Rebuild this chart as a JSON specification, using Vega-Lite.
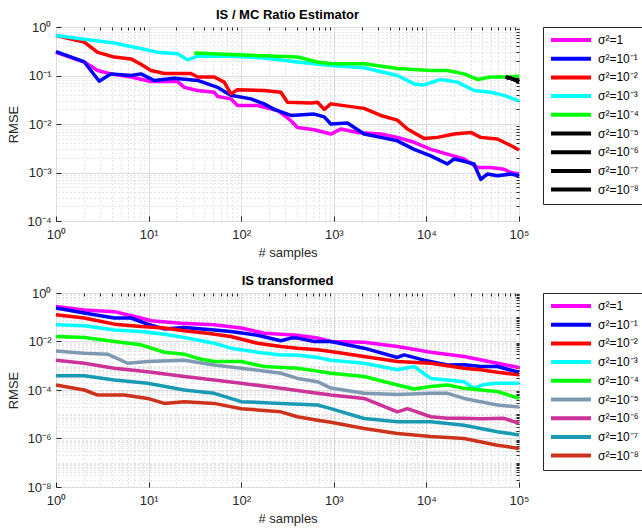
{
  "$schema": "https://vega.github.io/schema/vega-lite/v6.json",
  "background": "white",
  "padding": {"left": 7, "top": 8, "right": 0, "bottom": 0},
  "config": {
    "font": "Liberation Sans",
    "view": {"stroke": "#262626", "strokeWidth": 1},
    "title": {"fontSize": 13, "fontWeight": "bold", "color": "#000000", "offset": -1},
    "axis": {"labelFont": "Liberation Sans", "labelFontSize": 13, "labelColor": "#262626", "labelFlush": false, "titleFont": "Liberation Sans", "titleFontSize": 13, "titleFontWeight": "normal", "titleColor": "#262626", "tickColor": "#262626", "domain": false},
    "legend": {"orient": "right", "offset": 22, "strokeColor": "#262626", "fillColor": "white", "padding": 6, "cornerRadius": 0, "symbolType": "M-1,0H7", "symbolSize": 100, "symbolStrokeWidth": 4, "labelOffset": 35, "labelFont": "Liberation Sans", "labelFontSize": 12, "labelColor": "#000000", "rowPadding": 2.7, "title": null}
  },
  "datasets": {
    "top": [
      {"s":"σ²=1","x":1,"y":0.30},{"s":"σ²=1","x":2.02,"y":0.19},{"s":"σ²=1","x":2.82,"y":0.127},{"s":"σ²=1","x":3.92,"y":0.108},{"s":"σ²=1","x":6.45,"y":0.093},{"s":"σ²=1","x":10.6,"y":0.075},{"s":"σ²=1","x":20.6,"y":0.075},{"s":"σ²=1","x":24.3,"y":0.057},{"s":"σ²=1","x":33.8,"y":0.049},{"s":"σ²=1","x":51.1,"y":0.045},{"s":"σ²=1","x":55.6,"y":0.037},{"s":"σ²=1","x":77.3,"y":0.033},{"s":"σ²=1","x":91.2,"y":0.024},{"s":"σ²=1","x":150,"y":0.024},{"s":"σ²=1","x":247,"y":0.019},{"s":"σ²=1","x":344,"y":0.0117},{"s":"σ²=1","x":405,"y":0.0085},{"s":"σ²=1","x":614,"y":0.0076},{"s":"σ²=1","x":929,"y":0.0062},{"s":"σ²=1","x":1191,"y":0.0079},{"s":"σ²=1","x":1800,"y":0.0067},{"s":"σ²=1","x":3212,"y":0.0062},{"s":"σ²=1","x":4860,"y":0.0053},{"s":"σ²=1","x":7360,"y":0.0042},{"s":"σ²=1","x":11150,"y":0.0030},{"s":"σ²=1","x":16870,"y":0.0024},{"s":"σ²=1","x":25500,"y":0.0019},{"s":"σ²=1","x":35500,"y":0.00127},{"s":"σ²=1","x":49400,"y":0.00127},{"s":"σ²=1","x":68900,"y":0.00117},{"s":"σ²=1","x":81300,"y":0.0010},{"s":"σ²=1","x":100000,"y":0.00093},
      {"s":"σ²=10⁻¹","x":1,"y":0.31},{"s":"σ²=10⁻¹","x":2.02,"y":0.19},{"s":"σ²=10⁻¹","x":2.93,"y":0.076},{"s":"σ²=10⁻¹","x":3.92,"y":0.108},{"s":"σ²=10⁻¹","x":6.45,"y":0.10},{"s":"σ²=10⁻¹","x":8.26,"y":0.108},{"s":"σ²=10⁻¹","x":11.5,"y":0.079},{"s":"σ²=10⁻¹","x":18.9,"y":0.088},{"s":"σ²=10⁻¹","x":33.8,"y":0.079},{"s":"σ²=10⁻¹","x":55.6,"y":0.057},{"s":"σ²=10⁻¹","x":65.6,"y":0.047},{"s":"σ²=10⁻¹","x":77.3,"y":0.039},{"s":"σ²=10⁻¹","x":127,"y":0.033},{"s":"σ²=10⁻¹","x":177,"y":0.026},{"s":"σ²=10⁻¹","x":227,"y":0.020},{"s":"σ²=10⁻¹","x":344,"y":0.015},{"s":"σ²=10⁻¹","x":614,"y":0.016},{"s":"σ²=10⁻¹","x":787,"y":0.014},{"s":"σ²=10⁻¹","x":929,"y":0.010},{"s":"σ²=10⁻¹","x":1404,"y":0.0105},{"s":"σ²=10⁻¹","x":2124,"y":0.0062},{"s":"σ²=10⁻¹","x":3212,"y":0.0053},{"s":"σ²=10⁻¹","x":4860,"y":0.0045},{"s":"σ²=10⁻¹","x":7360,"y":0.0030},{"s":"σ²=10⁻¹","x":11150,"y":0.0022},{"s":"σ²=10⁻¹","x":16870,"y":0.0015},{"s":"σ²=10⁻¹","x":19900,"y":0.0019},{"s":"σ²=10⁻¹","x":25500,"y":0.0017},{"s":"σ²=10⁻¹","x":32700,"y":0.0015},{"s":"σ²=10⁻¹","x":38600,"y":0.00072},{"s":"σ²=10⁻¹","x":45500,"y":0.00093},{"s":"σ²=10⁻¹","x":58300,"y":0.00086},{"s":"σ²=10⁻¹","x":81300,"y":0.00093},{"s":"σ²=10⁻¹","x":100000,"y":0.00086},
      {"s":"σ²=10⁻²","x":1,"y":0.67},{"s":"σ²=10⁻²","x":2.02,"y":0.49},{"s":"σ²=10⁻²","x":2.82,"y":0.30},{"s":"σ²=10⁻²","x":4.26,"y":0.24},{"s":"σ²=10⁻²","x":6.45,"y":0.22},{"s":"σ²=10⁻²","x":8.26,"y":0.17},{"s":"σ²=10⁻²","x":10.6,"y":0.127},{"s":"σ²=10⁻²","x":14.8,"y":0.11},{"s":"σ²=10⁻²","x":28.6,"y":0.11},{"s":"σ²=10⁻²","x":33.8,"y":0.093},{"s":"σ²=10⁻²","x":51.1,"y":0.093},{"s":"σ²=10⁻²","x":65.6,"y":0.073},{"s":"σ²=10⁻²","x":77.3,"y":0.042},{"s":"σ²=10⁻²","x":91.2,"y":0.051},{"s":"σ²=10⁻²","x":177,"y":0.049},{"s":"σ²=10⁻²","x":268,"y":0.045},{"s":"σ²=10⁻²","x":316,"y":0.028},{"s":"σ²=10⁻²","x":565,"y":0.027},{"s":"σ²=10⁻²","x":667,"y":0.028},{"s":"σ²=10⁻²","x":787,"y":0.020},{"s":"σ²=10⁻²","x":929,"y":0.026},{"s":"σ²=10⁻²","x":2124,"y":0.021},{"s":"σ²=10⁻²","x":3212,"y":0.015},{"s":"σ²=10⁻²","x":4860,"y":0.012},{"s":"σ²=10⁻²","x":6240,"y":0.0079},{"s":"σ²=10⁻²","x":9440,"y":0.0050},{"s":"σ²=10⁻²","x":13160,"y":0.0053},{"s":"σ²=10⁻²","x":19900,"y":0.0062},{"s":"σ²=10⁻²","x":30100,"y":0.0067},{"s":"σ²=10⁻²","x":38600,"y":0.0053},{"s":"σ²=10⁻²","x":58300,"y":0.0049},{"s":"σ²=10⁻²","x":81300,"y":0.0036},{"s":"σ²=10⁻²","x":100000,"y":0.0029},
      {"s":"σ²=10⁻³","x":1,"y":0.67},{"s":"σ²=10⁻³","x":2.02,"y":0.56},{"s":"σ²=10⁻³","x":4.26,"y":0.47},{"s":"σ²=10⁻³","x":5.46,"y":0.42},{"s":"σ²=10⁻³","x":8.26,"y":0.36},{"s":"σ²=10⁻³","x":12.5,"y":0.30},{"s":"σ²=10⁻³","x":20.6,"y":0.28},{"s":"σ²=10⁻³","x":26.4,"y":0.21},{"s":"σ²=10⁻³","x":33.8,"y":0.25},{"s":"σ²=10⁻³","x":77.3,"y":0.25},{"s":"σ²=10⁻³","x":177,"y":0.23},{"s":"σ²=10⁻³","x":405,"y":0.19},{"s":"σ²=10⁻³","x":929,"y":0.16},{"s":"σ²=10⁻³","x":2124,"y":0.145},{"s":"σ²=10⁻³","x":4860,"y":0.10},{"s":"σ²=10⁻³","x":7360,"y":0.067},{"s":"σ²=10⁻³","x":9440,"y":0.064},{"s":"σ²=10⁻³","x":14300,"y":0.083},{"s":"σ²=10⁻³","x":21600,"y":0.073},{"s":"σ²=10⁻³","x":32700,"y":0.049},{"s":"σ²=10⁻³","x":49400,"y":0.045},{"s":"σ²=10⁻³","x":68900,"y":0.039},{"s":"σ²=10⁻³","x":100000,"y":0.030},
      {"s":"σ²=10⁻⁴","x":31.1,"y":0.29},{"s":"σ²=10⁻⁴","x":77.3,"y":0.27},{"s":"σ²=10⁻⁴","x":405,"y":0.24},{"s":"σ²=10⁻⁴","x":667,"y":0.19},{"s":"σ²=10⁻⁴","x":929,"y":0.175},{"s":"σ²=10⁻⁴","x":2124,"y":0.175},{"s":"σ²=10⁻⁴","x":4860,"y":0.14},{"s":"σ²=10⁻⁴","x":11150,"y":0.127},{"s":"σ²=10⁻⁴","x":16870,"y":0.127},{"s":"σ²=10⁻⁴","x":25500,"y":0.108},{"s":"σ²=10⁻⁴","x":35500,"y":0.083},{"s":"σ²=10⁻⁴","x":49400,"y":0.093},{"s":"σ²=10⁻⁴","x":68900,"y":0.093},{"s":"σ²=10⁻⁴","x":100000,"y":0.097},
      {"s":"σ²=10⁻⁵","x":71800,"y":0.093},{"s":"σ²=10⁻⁵","x":85000,"y":0.085},{"s":"σ²=10⁻⁵","x":100000,"y":0.075},
      {"s":"σ²=10⁻⁶","x":71800,"y":0.093},{"s":"σ²=10⁻⁶","x":85000,"y":0.085},{"s":"σ²=10⁻⁶","x":100000,"y":0.075},
      {"s":"σ²=10⁻⁷","x":71800,"y":0.093},{"s":"σ²=10⁻⁷","x":85000,"y":0.085},{"s":"σ²=10⁻⁷","x":100000,"y":0.075},
      {"s":"σ²=10⁻⁸","x":71800,"y":0.093},{"s":"σ²=10⁻⁸","x":85000,"y":0.085},{"s":"σ²=10⁻⁸","x":100000,"y":0.075}
    ],
    "bot": [
      {"s":"σ²=1","x":1,"y":0.28},{"s":"σ²=1","x":2.02,"y":0.20},{"s":"σ²=1","x":4.26,"y":0.17},{"s":"σ²=1","x":8.26,"y":0.093},{"s":"σ²=1","x":10.6,"y":0.072},{"s":"σ²=1","x":22.3,"y":0.057},{"s":"σ²=1","x":51.1,"y":0.049},{"s":"σ²=1","x":100,"y":0.036},{"s":"σ²=1","x":177,"y":0.022},{"s":"σ²=1","x":405,"y":0.018},{"s":"σ²=1","x":667,"y":0.014},{"s":"σ²=1","x":929,"y":0.010},{"s":"σ²=1","x":2124,"y":0.0094},{"s":"σ²=1","x":4860,"y":0.0062},{"s":"σ²=1","x":11150,"y":0.0036},{"s":"σ²=1","x":25500,"y":0.0024},{"s":"σ²=1","x":58300,"y":0.00127},{"s":"σ²=1","x":100000,"y":0.00084},
      {"s":"σ²=10⁻¹","x":1,"y":0.24},{"s":"σ²=10⁻¹","x":2.02,"y":0.15},{"s":"σ²=10⁻¹","x":4.26,"y":0.093},{"s":"σ²=10⁻¹","x":6.45,"y":0.093},{"s":"σ²=10⁻¹","x":9.75,"y":0.052},{"s":"σ²=10⁻¹","x":14.8,"y":0.033},{"s":"σ²=10⁻¹","x":24.3,"y":0.038},{"s":"σ²=10⁻¹","x":51.1,"y":0.030},{"s":"σ²=10⁻¹","x":77.3,"y":0.026},{"s":"σ²=10⁻¹","x":150,"y":0.018},{"s":"σ²=10⁻¹","x":268,"y":0.0107},{"s":"σ²=10⁻¹","x":344,"y":0.0138},{"s":"σ²=10⁻¹","x":405,"y":0.0138},{"s":"σ²=10⁻¹","x":614,"y":0.010},{"s":"σ²=10⁻¹","x":929,"y":0.010},{"s":"σ²=10⁻¹","x":2124,"y":0.0053},{"s":"σ²=10⁻¹","x":4860,"y":0.0022},{"s":"σ²=10⁻¹","x":5740,"y":0.0028},{"s":"σ²=10⁻¹","x":9440,"y":0.0017},{"s":"σ²=10⁻¹","x":16870,"y":0.00108},{"s":"σ²=10⁻¹","x":25500,"y":0.0011},{"s":"σ²=10⁻¹","x":38600,"y":0.00093},{"s":"σ²=10⁻¹","x":58300,"y":0.00093},{"s":"σ²=10⁻¹","x":100000,"y":0.00054},
      {"s":"σ²=10⁻²","x":1,"y":0.127},{"s":"σ²=10⁻²","x":2.02,"y":0.093},{"s":"σ²=10⁻²","x":4.26,"y":0.052},{"s":"σ²=10⁻²","x":8.26,"y":0.042},{"s":"σ²=10⁻²","x":14.8,"y":0.036},{"s":"σ²=10⁻²","x":24.3,"y":0.028},{"s":"σ²=10⁻²","x":43.3,"y":0.022},{"s":"σ²=10⁻²","x":77.3,"y":0.016},{"s":"σ²=10⁻²","x":150,"y":0.0085},{"s":"σ²=10⁻²","x":268,"y":0.0062},{"s":"σ²=10⁻²","x":405,"y":0.0053},{"s":"σ²=10⁻²","x":667,"y":0.0046},{"s":"σ²=10⁻²","x":929,"y":0.0039},{"s":"σ²=10⁻²","x":2124,"y":0.0024},{"s":"σ²=10⁻²","x":4860,"y":0.0015},{"s":"σ²=10⁻²","x":11150,"y":0.00127},{"s":"σ²=10⁻²","x":25500,"y":0.00079},{"s":"σ²=10⁻²","x":38600,"y":0.00068},{"s":"σ²=10⁻²","x":58300,"y":0.00054},{"s":"σ²=10⁻²","x":100000,"y":0.00042},
      {"s":"σ²=10⁻³","x":1,"y":0.049},{"s":"σ²=10⁻³","x":2.02,"y":0.045},{"s":"σ²=10⁻³","x":4.26,"y":0.030},{"s":"σ²=10⁻³","x":8.26,"y":0.026},{"s":"σ²=10⁻³","x":14.8,"y":0.020},{"s":"σ²=10⁻³","x":24.3,"y":0.0147},{"s":"σ²=10⁻³","x":51.1,"y":0.0085},{"s":"σ²=10⁻³","x":77.3,"y":0.0053},{"s":"σ²=10⁻³","x":150,"y":0.0036},{"s":"σ²=10⁻³","x":268,"y":0.0028},{"s":"σ²=10⁻³","x":405,"y":0.0028},{"s":"σ²=10⁻³","x":667,"y":0.0022},{"s":"σ²=10⁻³","x":929,"y":0.0017},{"s":"σ²=10⁻³","x":2124,"y":0.00127},{"s":"σ²=10⁻³","x":4860,"y":0.00068},{"s":"σ²=10⁻³","x":7360,"y":0.00093},{"s":"σ²=10⁻³","x":11150,"y":0.00030},{"s":"σ²=10⁻³","x":16870,"y":0.00026},{"s":"σ²=10⁻³","x":25500,"y":0.00022},{"s":"σ²=10⁻³","x":32700,"y":0.000117},{"s":"σ²=10⁻³","x":41900,"y":0.00017},{"s":"σ²=10⁻³","x":58300,"y":0.00019},{"s":"σ²=10⁻³","x":100000,"y":0.00019},
      {"s":"σ²=10⁻⁴","x":1,"y":0.016},{"s":"σ²=10⁻⁴","x":2.02,"y":0.0147},{"s":"σ²=10⁻⁴","x":4.26,"y":0.010},{"s":"σ²=10⁻⁴","x":8.26,"y":0.0073},{"s":"σ²=10⁻⁴","x":14.8,"y":0.0036},{"s":"σ²=10⁻⁴","x":24.3,"y":0.003},{"s":"σ²=10⁻⁴","x":33.8,"y":0.0020},{"s":"σ²=10⁻⁴","x":51.1,"y":0.0015},{"s":"σ²=10⁻⁴","x":100,"y":0.0015},{"s":"σ²=10⁻⁴","x":177,"y":0.00093},{"s":"σ²=10⁻⁴","x":405,"y":0.00079},{"s":"σ²=10⁻⁴","x":667,"y":0.00060},{"s":"σ²=10⁻⁴","x":929,"y":0.00049},{"s":"σ²=10⁻⁴","x":2124,"y":0.00036},{"s":"σ²=10⁻⁴","x":4860,"y":0.00016},{"s":"σ²=10⁻⁴","x":7360,"y":0.00011},{"s":"σ²=10⁻⁴","x":11150,"y":0.00014},{"s":"σ²=10⁻⁴","x":16870,"y":0.00016},{"s":"σ²=10⁻⁴","x":25500,"y":0.000117},{"s":"σ²=10⁻⁴","x":38600,"y":0.0001},{"s":"σ²=10⁻⁴","x":58300,"y":0.000087},{"s":"σ²=10⁻⁴","x":100000,"y":0.000045},
      {"s":"σ²=10⁻⁵","x":1,"y":0.0041},{"s":"σ²=10⁻⁵","x":2.02,"y":0.0033},{"s":"σ²=10⁻⁵","x":3.61,"y":0.003},{"s":"σ²=10⁻⁵","x":5.93,"y":0.00127},{"s":"σ²=10⁻⁵","x":9.75,"y":0.0015},{"s":"σ²=10⁻⁵","x":24.3,"y":0.0017},{"s":"σ²=10⁻⁵","x":51.1,"y":0.00108},{"s":"σ²=10⁻⁵","x":100,"y":0.00079},{"s":"σ²=10⁻⁵","x":268,"y":0.00049},{"s":"σ²=10⁻⁵","x":405,"y":0.00030},{"s":"σ²=10⁻⁵","x":667,"y":0.00022},{"s":"σ²=10⁻⁵","x":929,"y":0.00012},{"s":"σ²=10⁻⁵","x":2124,"y":0.000073},{"s":"σ²=10⁻⁵","x":4860,"y":0.000065},{"s":"σ²=10⁻⁵","x":11150,"y":0.000073},{"s":"σ²=10⁻⁵","x":16870,"y":0.000073},{"s":"σ²=10⁻⁵","x":25500,"y":0.000045},{"s":"σ²=10⁻⁵","x":58300,"y":0.000024},{"s":"σ²=10⁻⁵","x":100000,"y":0.00002},
      {"s":"σ²=10⁻⁶","x":1,"y":0.0017},{"s":"σ²=10⁻⁶","x":2.02,"y":0.00127},{"s":"σ²=10⁻⁶","x":4.26,"y":0.00079},{"s":"σ²=10⁻⁶","x":9.75,"y":0.00057},{"s":"σ²=10⁻⁶","x":24.3,"y":0.00036},{"s":"σ²=10⁻⁶","x":51.1,"y":0.00026},{"s":"σ²=10⁻⁶","x":100,"y":0.00019},{"s":"σ²=10⁻⁶","x":268,"y":0.000117},{"s":"σ²=10⁻⁶","x":667,"y":0.000073},{"s":"σ²=10⁻⁶","x":929,"y":0.000062},{"s":"σ²=10⁻⁶","x":2124,"y":0.000045},{"s":"σ²=10⁻⁶","x":4860,"y":0.0000126},{"s":"σ²=10⁻⁶","x":6240,"y":0.000017},{"s":"σ²=10⁻⁶","x":11150,"y":0.0000079},{"s":"σ²=10⁻⁶","x":16870,"y":0.0000068},{"s":"σ²=10⁻⁶","x":25500,"y":0.0000068},{"s":"σ²=10⁻⁶","x":38600,"y":0.0000065},{"s":"σ²=10⁻⁶","x":68900,"y":0.0000068},{"s":"σ²=10⁻⁶","x":100000,"y":0.0000042},
      {"s":"σ²=10⁻⁷","x":1,"y":0.00039},{"s":"σ²=10⁻⁷","x":2.02,"y":0.00039},{"s":"σ²=10⁻⁷","x":4.26,"y":0.00026},{"s":"σ²=10⁻⁷","x":9.75,"y":0.00019},{"s":"σ²=10⁻⁷","x":24.3,"y":0.0001},{"s":"σ²=10⁻⁷","x":51.1,"y":0.000073},{"s":"σ²=10⁻⁷","x":100,"y":0.000033},{"s":"σ²=10⁻⁷","x":268,"y":0.000028},{"s":"σ²=10⁻⁷","x":667,"y":0.000024},{"s":"σ²=10⁻⁷","x":929,"y":0.000017},{"s":"σ²=10⁻⁷","x":2124,"y":0.0000067},{"s":"σ²=10⁻⁷","x":4860,"y":0.0000049},{"s":"σ²=10⁻⁷","x":11150,"y":0.0000049},{"s":"σ²=10⁻⁷","x":25500,"y":0.0000035},{"s":"σ²=10⁻⁷","x":58300,"y":0.0000019},{"s":"σ²=10⁻⁷","x":100000,"y":0.0000014},
      {"s":"σ²=10⁻⁸","x":1,"y":0.00016},{"s":"σ²=10⁻⁸","x":2.02,"y":0.0001},{"s":"σ²=10⁻⁸","x":2.82,"y":0.000062},{"s":"σ²=10⁻⁸","x":5.46,"y":0.000062},{"s":"σ²=10⁻⁸","x":9.75,"y":0.000045},{"s":"σ²=10⁻⁸","x":14.8,"y":0.000028},{"s":"σ²=10⁻⁸","x":24.3,"y":0.000033},{"s":"σ²=10⁻⁸","x":51.1,"y":0.000028},{"s":"σ²=10⁻⁸","x":100,"y":0.000017},{"s":"σ²=10⁻⁸","x":268,"y":0.0000126},{"s":"σ²=10⁻⁸","x":405,"y":0.0000079},{"s":"σ²=10⁻⁸","x":667,"y":0.0000057},{"s":"σ²=10⁻⁸","x":929,"y":0.0000047},{"s":"σ²=10⁻⁸","x":2124,"y":0.0000026},{"s":"σ²=10⁻⁸","x":4860,"y":0.0000016},{"s":"σ²=10⁻⁸","x":11150,"y":0.0000012},{"s":"σ²=10⁻⁸","x":25500,"y":0.000001},{"s":"σ²=10⁻⁸","x":58300,"y":0.00000053},{"s":"σ²=10⁻⁸","x":100000,"y":0.00000039}
    ]
  },
  "spacing": 14,
  "resolve": {"scale": {"color": "independent"}},
  "vconcat": [
    {
      "title": "IS / MC Ratio Estimator",
      "width": 463, "height": 194,
      "data": {"name": "top"},
      "resolve": {"axis": {"x": "independent", "y": "independent"}},
      "layer": [
        {
          "mark": {"type": "point", "opacity": 0},
          "encoding": {
            "x": {"field": "x", "type": "quantitative", "scale": {"type": "log", "domain": [1, 100000]},
                  "axis": {"orient": "top", "values": [2,3,4,5,6,7,8,9,20,30,40,50,60,70,80,90,200,300,400,500,600,700,800,900,2000,3000,4000,5000,6000,7000,8000,9000,20000,30000,40000,50000,60000,70000,80000,90000], "labels": false, "title": null, "tickSize": -3, "grid": true, "gridColor": "#bdbdbd", "gridDash": [1, 3], "gridWidth": 0.8}},
            "y": {"field": "y", "type": "quantitative", "scale": {"type": "log", "domain": [0.0001, 1]},
                  "axis": {"orient": "right", "values": [0.0002,0.0003,0.0004,0.0005,0.0006,0.0007,0.0008,0.0009,0.002,0.003,0.004,0.005,0.006,0.007,0.008,0.009,0.02,0.03,0.04,0.05,0.06,0.07,0.08,0.09,0.2,0.3,0.4,0.5,0.6,0.7,0.8,0.9], "labels": false, "title": null, "tickSize": -3, "grid": true, "gridColor": "#bdbdbd", "gridDash": [1, 3], "gridWidth": 0.8}}
          }
        },
        {
          "mark": {"type": "line", "strokeWidth": 3.5, "strokeJoin": "round"},
          "encoding": {
            "x": {"field": "x", "type": "quantitative", "scale": {"type": "log", "domain": [1, 100000]},
                  "axis": {"orient": "bottom", "values": [1,10,100,1000,10000,100000], "title": "# samples", "titlePadding": 5, "tickSize": -5, "labelPadding": 12, "grid": true, "gridColor": "#dcdcdc", "labelExpr": "'10' + (round(log(datum.value)/LN10) < 0 ? '⁻' : '') + substring('⁰¹²³⁴⁵⁶⁷⁸⁹', abs(round(log(datum.value)/LN10)), abs(round(log(datum.value)/LN10)) + 1)"}},
            "y": {"field": "y", "type": "quantitative", "scale": {"type": "log", "domain": [0.0001, 1]},
                  "axis": {"orient": "left", "values": [0.0001,0.001,0.01,0.1,1], "title": "RMSE", "titlePadding": 6, "tickSize": -5, "labelPadding": 10, "grid": true, "gridColor": "#dcdcdc", "labelExpr": "'10' + (round(log(datum.value)/LN10) < 0 ? '⁻' : '') + substring('⁰¹²³⁴⁵⁶⁷⁸⁹', abs(round(log(datum.value)/LN10)), abs(round(log(datum.value)/LN10)) + 1)"}},
            "color": {"field": "s", "type": "nominal",
                      "scale": {"domain": ["σ²=1","σ²=10⁻¹","σ²=10⁻²","σ²=10⁻³","σ²=10⁻⁴","σ²=10⁻⁵","σ²=10⁻⁶","σ²=10⁻⁷","σ²=10⁻⁸"],
                                "range": ["#ff00ff","#0000ff","#ff0000","#00ffff","#00ff00","#000000","#000000","#000000","#000000"]}}
          }
        }
      ]
    },
    {
      "title": "IS transformed",
      "width": 463, "height": 194,
      "data": {"name": "bot"},
      "resolve": {"axis": {"x": "independent", "y": "independent"}},
      "layer": [
        {
          "mark": {"type": "point", "opacity": 0},
          "encoding": {
            "x": {"field": "x", "type": "quantitative", "scale": {"type": "log", "domain": [1, 100000]},
                  "axis": {"orient": "top", "values": [2,3,4,5,6,7,8,9,20,30,40,50,60,70,80,90,200,300,400,500,600,700,800,900,2000,3000,4000,5000,6000,7000,8000,9000,20000,30000,40000,50000,60000,70000,80000,90000], "labels": false, "title": null, "tickSize": -3, "grid": true, "gridColor": "#bdbdbd", "gridDash": [1, 3], "gridWidth": 0.8}},
            "y": {"field": "y", "type": "quantitative", "scale": {"type": "log", "domain": [1e-8, 1]},
                  "axis": {"orient": "right", "values": [2e-8,3e-8,4e-8,5e-8,6e-8,7e-8,8e-8,9e-8,1e-7,2e-7,3e-7,4e-7,5e-7,6e-7,7e-7,8e-7,9e-7,2e-6,3e-6,4e-6,5e-6,6e-6,7e-6,8e-6,9e-6,1e-5,2e-5,3e-5,4e-5,5e-5,6e-5,7e-5,8e-5,9e-5,2e-4,3e-4,4e-4,5e-4,6e-4,7e-4,8e-4,9e-4,1e-3,2e-3,3e-3,4e-3,5e-3,6e-3,7e-3,8e-3,9e-3,2e-2,3e-2,4e-2,5e-2,6e-2,7e-2,8e-2,9e-2,0.1,0.2,0.3,0.4,0.5,0.6,0.7,0.8,0.9], "labels": false, "title": null, "tickSize": -3, "grid": true, "gridColor": "#bdbdbd", "gridDash": [1, 3], "gridWidth": 0.8}}
          }
        },
        {
          "mark": {"type": "line", "strokeWidth": 3.5, "strokeJoin": "round"},
          "encoding": {
            "x": {"field": "x", "type": "quantitative", "scale": {"type": "log", "domain": [1, 100000]},
                  "axis": {"orient": "bottom", "values": [1,10,100,1000,10000,100000], "title": "# samples", "titlePadding": 5, "tickSize": -5, "labelPadding": 12, "grid": true, "gridColor": "#dcdcdc", "labelExpr": "'10' + (round(log(datum.value)/LN10) < 0 ? '⁻' : '') + substring('⁰¹²³⁴⁵⁶⁷⁸⁹', abs(round(log(datum.value)/LN10)), abs(round(log(datum.value)/LN10)) + 1)"}},
            "y": {"field": "y", "type": "quantitative", "scale": {"type": "log", "domain": [1e-8, 1]},
                  "axis": {"orient": "left", "values": [1e-8,1e-6,1e-4,1e-2,1], "title": "RMSE", "titlePadding": 6, "tickSize": -5, "labelPadding": 10, "grid": true, "gridColor": "#dcdcdc", "labelExpr": "'10' + (round(log(datum.value)/LN10) < 0 ? '⁻' : '') + substring('⁰¹²³⁴⁵⁶⁷⁸⁹', abs(round(log(datum.value)/LN10)), abs(round(log(datum.value)/LN10)) + 1)"}},
            "color": {"field": "s", "type": "nominal",
                      "scale": {"domain": ["σ²=1","σ²=10⁻¹","σ²=10⁻²","σ²=10⁻³","σ²=10⁻⁴","σ²=10⁻⁵","σ²=10⁻⁶","σ²=10⁻⁷","σ²=10⁻⁸"],
                                "range": ["#ff00ff","#0000ff","#ff0000","#00ffff","#00ff00","#8099b3","#cc3399","#1a99b3","#cc331a"]}}
          }
        }
      ]
    }
  ]
}
